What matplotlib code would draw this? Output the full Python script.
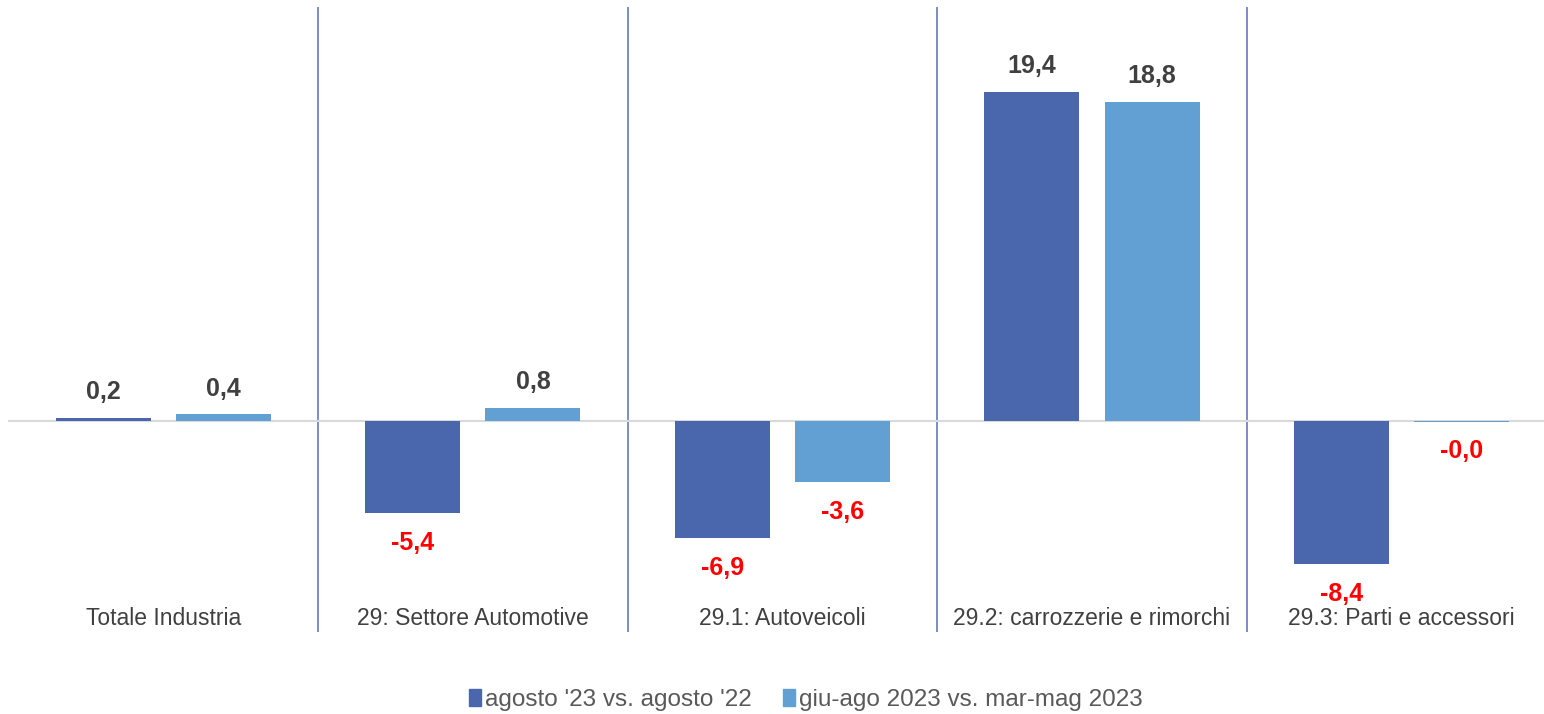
import matplotlib.pyplot as plt
from matplotlib.patches import Patch
import numpy as np

plt.rcParams['font.family'] = ['Liberation Sans', 'DejaVu Sans']

categories = ['Totale Industria', '29: Settore Automotive', '29.1: Autoveicoli',
              '29.2: carrozzerie e rimorchi', '29.3: Parti e accessori']
agosto = [0.2, -5.4, -6.9, 19.4, -8.4]
giu_ago = [0.4, 0.8, -3.6, 18.8, -0.03]
series_names = ["agosto '23 vs. agosto '22", 'giu-ago 2023 vs. mar-mag 2023']

c1 = '#4A66AC'
c2 = '#629FD3'

fig = plt.figure(figsize=(15.44, 7.14), dpi=100)
ax = fig.add_axes([0.0055, 0.115, 0.9945, 0.878])

x = np.arange(len(categories))
w = 0.307
off = 0.194
ax.bar(x - off, agosto, w, color=c1, zorder=3)
ax.bar(x + off, giu_ago, w, color=c2, zorder=3)

ax.axhline(0, color='#D9D9D9', lw=1.5, zorder=2)

def fmt(v):
    return ('%.1f' % v).replace('.', ',')

for xs, vals in ((x - off, agosto), (x + off, giu_ago)):
    for xi, v in zip(xs, vals):
        if v >= 0:
            ax.text(xi, v + 1.5, fmt(v), ha='center', va='center',
                    fontsize=18, fontweight='bold', color='#404040')
        else:
            ax.text(xi, v - 1.75, fmt(v), ha='center', va='center',
                    fontsize=18, fontweight='bold', color='#FF0000')

# separatori tra le categorie
for b in np.arange(0.5, len(categories) - 0.5, 1):
    ax.axvline(b, ymin=0.0, ymax=0.995, color='#7C8CC8', lw=1.4, zorder=1)

for i, lab in enumerate(categories):
    ax.text(i, -11.6, lab, ha='center', va='center', fontsize=16.5, color='#404040')

ax.set_xlim(-0.5, 4.46)
ax.set_ylim(-12.4, 24.5)
ax.axis('off')

handles = [Patch(color=c1, label=series_names[0]), Patch(color=c2, label=series_names[1])]
fig.legend(handles=handles, loc='center', bbox_to_anchor=(0.522, 0.02), ncol=2,
           frameon=False, fontsize=17.5, handlelength=0.5, handleheight=0.75,
           handletextpad=0.15, columnspacing=1.3, labelcolor='#595959',
           borderpad=0, borderaxespad=0)

fig.savefig('out.png', dpi=100, facecolor='white')
